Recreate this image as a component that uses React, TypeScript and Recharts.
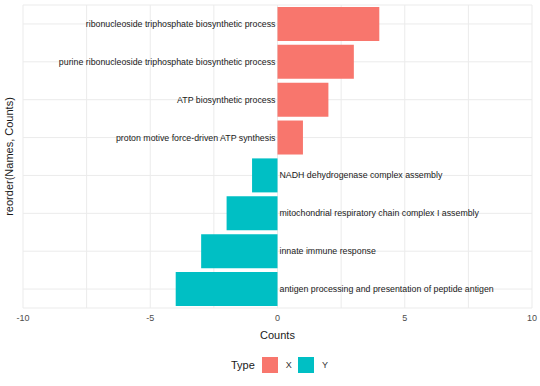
import { Bar, BarChart, CartesianGrid, Cell, LabelList, Legend, XAxis, YAxis } from 'recharts';

const names = [
  'ribonucleoside triphosphate biosynthetic process',
  'purine ribonucleoside triphosphate biosynthetic process',
  'ATP biosynthetic process',
  'proton motive force-driven ATP synthesis',
  'NADH dehydrogenase complex assembly',
  'mitochondrial respiratory chain complex I assembly',
  'innate immune response',
  'antigen processing and presentation of peptide antigen',
];
const counts = [4, 3, 2, 1, -1, -2, -3, -4];
const types = ['X', 'X', 'X', 'X', 'Y', 'Y', 'Y', 'Y'];
const xTicks = [-10, -7.5, -5, -2.5, 0, 2.5, 5, 7.5, 10];
const typeColors: Record<string, string> = { X: '#F8766D', Y: '#00BFC4' };

const data = names.map((name, i) => ({ name, counts: counts[i], type: types[i] }));

const FONT = '"Liberation Sans", Arial, sans-serif';

function NameLabel(props: any) {
  const { x, y, width, height, index } = props;
  const v = counts[index];
  const left = Math.min(x, x + width);
  const right = Math.max(x, x + width);
  const cy = y + height / 2;
  const pos = v > 0;
  return (
    <text
      x={pos ? left - 2 : right + 2}
      y={cy}
      dy="0.35em"
      textAnchor={pos ? 'end' : 'start'}
      fontSize={8.8}
      fontFamily={FONT}
      fill="#1a1a1a"
    >
      {names[index]}
    </text>
  );
}

function TypeLegend() {
  return (
    <div
      style={{
        height: 43,
        width: 540,
        display: 'flex',
        alignItems: 'center',
        paddingLeft: 231,
        boxSizing: 'border-box',
        fontFamily: FONT,
      }}
    >
      <span style={{ fontSize: 11, color: '#1a1a1a', marginRight: 7 }}>Type</span>
      {['X', 'Y'].map((t) => (
        <span key={t} style={{ display: 'flex', alignItems: 'center' }}>
          <span style={{ width: 16, height: 16, background: typeColors[t], display: 'inline-block' }} />
          <span style={{ fontSize: 9, color: '#333', marginLeft: 8, marginRight: 6 }}>{t}</span>
        </span>
      ))}
    </div>
  );
}

export default function App() {
  return (
    <div style={{ position: 'absolute', left: 0, top: 0, background: '#fff' }}>
      <BarChart
        width={540}
        height={386}
        data={data}
        layout="vertical"
        margin={{ top: 5, right: 8, bottom: 0, left: 0 }}
        barCategoryGap="5%"
      >
        <CartesianGrid stroke="#ebebeb" strokeWidth={1} />
        <XAxis
          type="number"
          dataKey="counts"
          domain={[-10, 10]}
          ticks={xTicks}
          tickFormatter={(v: number) => (v % 5 === 0 ? String(v) : '')}
          axisLine={false}
          tickLine={false}
          tickSize={5}
          height={35}
          tick={{ fill: '#4d4d4d', fontSize: 9, fontFamily: FONT }}
          label={{
            value: 'Counts',
            position: 'insideBottom',
            offset: 4,
            fill: '#1a1a1a',
            fontSize: 11,
            fontFamily: FONT,
          }}
        />
        <YAxis
          type="category"
          dataKey="name"
          width={23}
          tickFormatter={() => ''}
          axisLine={false}
          tickLine={false}
          label={{
            value: 'reorder(Names, Counts)',
            angle: -90,
            position: 'center',
            dx: -2,
            fill: '#1a1a1a',
            fontSize: 11,
            fontFamily: FONT,
          }}
        />
        <Legend verticalAlign="bottom" content={<TypeLegend />} wrapperStyle={{ left: 0, width: 540 }} />
        <Bar dataKey="counts" isAnimationActive={false}>
          {data.map((d) => (
            <Cell key={d.name} fill={typeColors[d.type]} />
          ))}
          <LabelList dataKey="name" content={<NameLabel />} />
        </Bar>
      </BarChart>
    </div>
  );
}
